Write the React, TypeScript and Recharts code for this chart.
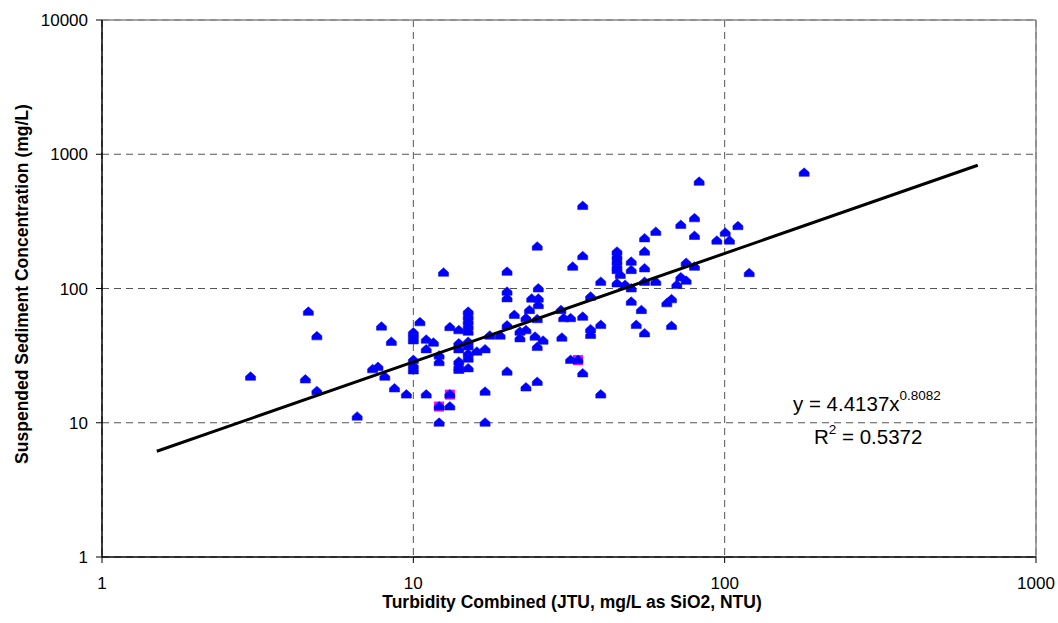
import React from 'react';
import {
  ScatterChart,
  Scatter,
  XAxis,
  YAxis,
  CartesianGrid,
  ReferenceLine,
} from 'recharts';

// Observed data (blue triangles)
const turbidity = [
  3.0, 4.5, 4.6, 4.9, 4.9, 6.6, 7.4, 7.7, 7.9, 8.1, 8.5, 8.7, 9.5,
  10, 10, 10, 10, 10, 10, 10.5, 12.5, 11, 11, 11.6, 12.1, 12.1, 11, 13.1,
  12.1, 13.1, 12.1, 13.1, 14, 14, 14, 14, 14, 14,
  15, 15, 15, 15, 15, 15, 15, 15, 15, 15,
  16, 17, 17, 17, 17.6, 19, 20, 20, 20, 20, 20, 21.1, 22, 22, 23, 23, 23.6, 23,
  24, 25.2, 25.2, 25.2, 25, 24.6, 26.1, 25, 25, 25,
  30, 29.8, 30.4, 32, 32, 33.8, 32.5, 35, 35, 35, 35, 37.1, 37.1, 37.1,
  40, 40, 40, 45.1, 45.1, 45.1, 45.1, 45.1, 46.2, 45.1, 47.9,
  50.1, 50.1, 50.1, 50.1, 54, 52, 55.3, 55.3, 55.3, 55.3, 55.3,
  60.1, 60.1, 72.3, 75.2, 80, 80, 80, 72.3, 75.2, 70.2, 67.5, 65.2, 67.5,
  94.4, 100.4, 103.6, 110.3, 119.9, 180, 82.8,
];
const ssc = [
  22, 21, 67, 44, 17.2, 11.1, 25, 26, 52, 22, 40, 18, 16.2,
  47, 44, 41, 29.3, 26.5, 24.5, 56, 131, 41.5, 35.2, 39.4, 31.6, 28.2, 16.2, 16.2,
  13.2, 13.2, 10, 51.5, 48.8, 39, 35.2, 28.5, 26.1, 24.7,
  67, 61.5, 56.5, 52, 47.6, 40, 37, 32.5, 30, 25.4,
  33.8, 35.2, 17, 10, 44.5, 44.5, 133, 94.5, 84.4, 53, 24, 63.4, 47.6, 42.5, 48.8, 18.3, 69, 60,
  84, 84, 100, 75, 59, 43.7, 40.8, 36.6, 20.1, 205,
  43, 69, 60, 60, 29.3, 29.3, 145, 411, 174, 61.5, 23.3, 49.6, 45, 86.8,
  53.4, 112, 16.2, 188, 172, 158, 145, 137, 126, 109, 106,
  158, 137, 100, 79.6, 69, 53.4, 46.3, 236, 188, 141, 112,
  264, 112, 297, 155, 333, 246, 145, 121, 114, 106, 83, 77.5, 52.5,
  227, 260, 227, 291, 130, 727, 623,
];

// Second series (magenta squares, mostly hidden)
const turbidity2 = [12.1, 13.1, 33.8];
const ssc2 = [13.2, 16.2, 29.3];

// Power trendline endpoints: y = 4.4137x^0.8082
const trendX = [1.5, 650];
const trendY = [6.13, 828];

const xTicks = [1, 10, 100, 1000];
const yTicks = [1, 10, 100, 1000, 10000];

const observed = turbidity.map((x, i) => ({ x, y: ssc[i] }));
const observed2 = turbidity2.map((x, i) => ({ x, y: ssc2[i] }));
const trend = trendX.map((x, i) => ({ x, y: trendY[i] }));

const FONT = 'Arial, "Liberation Sans", Helvetica, sans-serif';

const Triangle = (props: any) => {
  const { cx, cy } = props;
  if (cx == null || cy == null) return <g />;
  const pts = [
    [cx, cy - 5],
    [cx + 5, cy - 0.5],
    [cx + 5, cy + 3.5],
    [cx - 5, cy + 3.5],
    [cx - 5, cy - 0.5],
  ]
    .map((p) => p.join(','))
    .join(' ');
  return <polygon points={pts} fill="#0000FF" stroke="#1414D8" strokeWidth={0.6} />;
};

const Square = (props: any) => {
  const { cx, cy } = props;
  if (cx == null || cy == null) return <g />;
  return <rect x={cx - 5} y={cy - 5} width={10} height={10} fill="#FF00FF" />;
};

const Nothing = () => <g />;

const YTitle = () => (
  <text
    x={22}
    y={284}
    transform="rotate(-90, 22, 284)"
    textAnchor="middle"
    dominantBaseline="central"
    fontFamily={FONT}
    fontWeight="bold"
    fontSize={17.5}
    fill="#000"
  >
    Suspended Sediment Concentration (mg/L)
  </text>
);

const XTitle = () => (
  <g>
    <text
      x={572}
      y={608}
      textAnchor="middle"
      fontFamily={FONT}
      fontWeight="bold"
      fontSize={17.5}
      fill="#000"
    >
      Turbidity Combined (JTU, mg/L as SiO2, NTU)
    </text>
    <text x={793} y={411} fontFamily={FONT} fontSize={20.5} fill="#000">
      y = 4.4137x
      <tspan dy={-11} fontSize={13.5}>0.8082</tspan>
    </text>
    <text x={814} y={444} fontFamily={FONT} fontSize={20.5} fill="#000">
      R
      <tspan dy={-10} fontSize={13.5}>2</tspan>
      <tspan dy={10}> = 0.5372</tspan>
    </text>
  </g>
);

export default function App() {
  return (
    <div style={{ position: 'absolute', left: 0, top: 0, width: 1058, height: 623, background: '#fff' }}>
      <ScatterChart
        width={1058}
        height={623}
        margin={{ top: 20, right: 22, bottom: 0, left: 0 }}
      >
        <CartesianGrid stroke="#555" strokeDasharray="7 5" />
        <XAxis
          type="number"
          dataKey="x"
          scale="log"
          domain={[1, 1000]}
          ticks={xTicks}
          allowDataOverflow
          height={66}
          tickSize={6}
          tickMargin={14}
          stroke="#000"
          tick={{ fill: '#000', fontSize: 17, fontFamily: FONT }}
          tickLine={{ stroke: '#000' }}
          axisLine={{ stroke: '#000', strokeWidth: 1.5 }}
          label={{ content: () => <XTitle /> }}
        />
        <YAxis
          type="number"
          dataKey="y"
          scale="log"
          domain={[1, 10000]}
          ticks={yTicks}
          allowDataOverflow
          width={102}
          tickSize={6}
          tickMargin={8}
          stroke="#000"
          tick={{ fill: '#000', fontSize: 17, fontFamily: FONT }}
          tickLine={{ stroke: '#000' }}
          axisLine={{ stroke: '#000', strokeWidth: 1.5 }}
          label={{ content: () => <YTitle /> }}
        />
        <ReferenceLine y={10000} stroke="#888" strokeWidth={1.5} />
        <ReferenceLine x={1000} stroke="#888" strokeWidth={1.5} />
        <Scatter data={observed2} shape={<Square />} isAnimationActive={false} />
        <Scatter data={observed} shape={<Triangle />} isAnimationActive={false} />
        <Scatter
          data={trend}
          shape={<Nothing />}
          line={{ stroke: '#000', strokeWidth: 3 }}
          isAnimationActive={false}
        />
      </ScatterChart>
    </div>
  );
}
